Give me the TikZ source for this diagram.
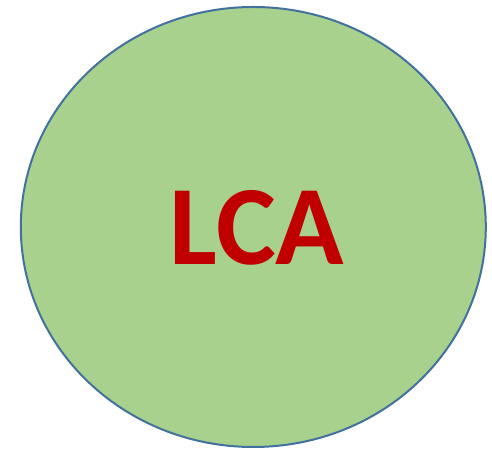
\documentclass[tikz,border=0pt]{standalone}
\usepackage{fontspec}
\setmainfont{Carlito}
\usepackage{tikz}
\usetikzlibrary{shapes.geometric}

\definecolor{lcagreen}{HTML}{A9D18E}
\definecolor{lcablue}{HTML}{41719C}
\definecolor{lcared}{HTML}{C00000}

\begin{document}
\begin{tikzpicture}[x=1pt, y=1pt]
\useasboundingbox (0,0) rectangle (492,449);
% Outer ellipse
\node[ellipse, draw=lcablue, line width=2pt, fill=lcagreen,
      minimum width=465pt, minimum height=440pt, inner sep=0pt] (lca) at (253.3,222) {};

% Label
\node[inner sep=0pt, text=lcared, font=\fontsize{113}{113}\selectfont\bfseries] (lbl) at (257,221) {LCA};
\end{tikzpicture}
\end{document}
